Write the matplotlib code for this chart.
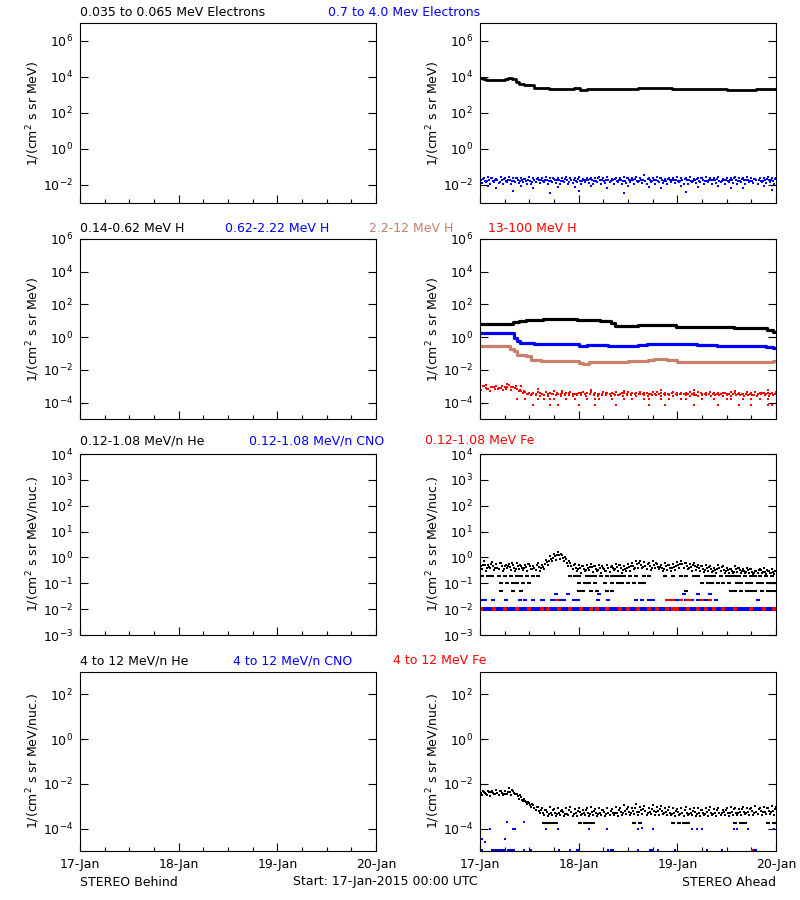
import numpy as np
import matplotlib
matplotlib.use("Agg")
import matplotlib.pyplot as plt
from matplotlib.ticker import NullLocator

plt.rcParams['font.family'] = ['DejaVu Sans']
plt.rcParams['font.size'] = 9

BLUE = '#0000ff'
RED = '#ff0000'
BROWN = '#c8806a'

# ---- row 1: electrons (STEREO Ahead) ----
e_lo_t = [0, 0.03, 0.06, 0.25, 0.28, 0.32, 0.36, 0.40, 0.45, 0.52, 0.55, 0.60, 0.70, 0.90, 0.95,
          1.01, 1.08, 1.20, 1.50, 1.60, 1.75, 1.85, 1.95, 2.10, 2.50, 2.80, 2.97, 3.0]
e_lo_v = [9000, 7500, 7200, 8000, 8700, 7600, 5600, 4300, 3500, 3400, 2500, 2300, 2100, 2200, 2300,
          1850, 2150, 2200, 2100, 2300, 2600, 2500, 2150, 2050, 2000, 2050, 2200, 2200]

e_hi_1 = [0.026, 0.023, 0.028, 0.025, 0.022, 0.027, 0.024, 0.029, 0.023, 0.026, 0.025, 0.022, 0.027, 0.024,
          0.026, 0.023, 0.028, 0.025, 0.022, 0.026, 0.024, 0.027, 0.023, 0.025, 0.028, 0.022, 0.026, 0.024,
          0.023, 0.027, 0.025, 0.029, 0.022, 0.026, 0.024, 0.027, 0.023, 0.025, 0.028, 0.024, 0.034, 0.026,
          0.023, 0.027, 0.025, 0.022, 0.026, 0.024, 0.028, 0.023, 0.025, 0.027, 0.022, 0.026, 0.024, 0.029,
          0.023, 0.025, 0.027, 0.022, 0.026, 0.024, 0.028, 0.023, 0.025, 0.027, 0.024, 0.022, 0.026, 0.025,
          0.028, 0.023, 0.025]
e_hi_2 = [0.018, 0.017, 0.020, 0.016, 0.019, 0.018, 0.017, 0.020, 0.016, 0.018, 0.019, 0.017, 0.016, 0.020,
          0.018, 0.017, 0.019, 0.016, 0.018, 0.020, 0.017, 0.019, 0.018, 0.016, 0.017, 0.020, 0.018, 0.019,
          0.016, 0.018, 0.017, 0.020, 0.019, 0.016, 0.018, 0.017, 0.019, 0.020, 0.016, 0.018, 0.017, 0.019,
          0.018, 0.016, 0.020, 0.017, 0.018, 0.019, 0.016, 0.018, 0.020, 0.017, 0.019, 0.016, 0.018, 0.017,
          0.020, 0.018, 0.016, 0.019, 0.017, 0.018, 0.020, 0.016, 0.019, 0.018, 0.017, 0.020, 0.016, 0.018,
          0.019, 0.017, 0.018]
e_hi_3 = [0.013, 0.014, 0.012, 0.015, 0.013, 0.011, 0.014, 0.012, 0.015, 0.013, 0.014, 0.012, 0.011, 0.014,
          0.013, 0.015, 0.012, 0.014, 0.013, 0.011, 0.015, 0.012, 0.013, 0.014, 0.012, 0.015, 0.013, 0.011,
          0.014, 0.012, 0.013, 0.015, 0.012, 0.014, 0.011, 0.013, 0.015, 0.012, 0.014, 0.013, 0.012, 0.014,
          0.011, 0.015, 0.013, 0.012, 0.014, 0.013, 0.015, 0.011, 0.012, 0.014, 0.013, 0.015, 0.012, 0.014,
          0.011, 0.013, 0.015, 0.012, 0.014, 0.013, 0.012, 0.015, 0.011, 0.014, 0.013, 0.012, 0.015, 0.013,
          0.014, 0.012, 0.013]
e_hi_4 = [0.021, 0.016, 0.023, 0.019, 0.015, 0.022, 0.020, 0.017, 0.024, 0.016, 0.021, 0.019, 0.015, 0.022,
          0.018, 0.020, 0.016, 0.023, 0.019, 0.017, 0.021, 0.015, 0.020, 0.022, 0.017, 0.019, 0.021, 0.016,
          0.023, 0.018, 0.020, 0.016, 0.022, 0.019, 0.017, 0.024, 0.018, 0.021, 0.016, 0.020, 0.022, 0.017,
          0.019, 0.023, 0.016, 0.021, 0.018, 0.020, 0.017, 0.022, 0.019, 0.016, 0.021, 0.023, 0.017, 0.020,
          0.018, 0.022, 0.016, 0.020, 0.019, 0.023, 0.017, 0.021, 0.018, 0.016, 0.022, 0.020, 0.017, 0.021,
          0.019, 0.022, 0.020]
e_hi_out_h = [2, 4, 8, 10, 13, 17, 19, 23, 24, 27, 31, 35, 36, 41, 44, 49, 50, 53, 58, 61, 64, 69, 71]
e_hi_out_v = [0.0085, 0.007, 0.0045, 0.009, 0.0065, 0.0035, 0.008, 0.0075, 0.0045, 0.009, 0.007, 0.0035,
              0.0085, 0.008, 0.0065, 0.009, 0.004, 0.0075, 0.0085, 0.007, 0.0065, 0.009, 0.005]

# ---- row 2: protons ----
h1_t = [0, 0.28, 0.33, 0.40, 0.47, 0.64, 0.98, 1.22, 1.33, 1.37, 1.60, 1.99, 2.20, 2.57, 2.80, 2.91, 2.97, 3.0]
h1_v = [6.3, 6.8, 8.5, 10, 11, 12.5, 11.5, 9.5, 7, 5, 5.6, 4.4, 4.0, 3.6, 3.4, 2.6, 2.1, 2.1]
h2_t = [0, 0.31, 0.34, 0.37, 0.41, 0.55, 1.0, 1.08, 1.3, 1.6, 1.69, 1.9, 2.2, 2.4, 2.74, 2.9, 2.97, 3.0]
h2_v = [1.9, 1.8, 0.9, 0.55, 0.43, 0.39, 0.30, 0.32, 0.31, 0.33, 0.39, 0.36, 0.35, 0.30, 0.27, 0.24, 0.22, 0.22]
h3_t = [0, 0.25, 0.30, 0.34, 0.38, 0.47, 0.52, 0.62, 1.0, 1.04, 1.1, 1.5, 1.7, 1.76, 1.9, 2.0, 2.3, 2.9, 2.97, 3.0]
h3_v = [0.27, 0.3, 0.2, 0.14, 0.085, 0.067, 0.042, 0.033, 0.026, 0.024, 0.032, 0.035, 0.042, 0.048, 0.038,
        0.03, 0.029, 0.032, 0.036, 0.036]

h4_a = [8e-4, 1.0e-3, 7e-4, 9e-4, 1.1e-3, 8e-4, 9.5e-4, 1.2e-3, 9e-4, 7e-4, 5.5e-4, 4.5e-4, 4e-4,
        3.8e-4, 4.5e-4, 3.5e-4, 4.2e-4, 3.9e-4, 4.8e-4, 3.6e-4, 4.1e-4, 3.8e-4, 4.4e-4, 3.5e-4, 4.0e-4,
        4.6e-4, 3.7e-4, 4.2e-4, 3.9e-4, 3.6e-4, 4.5e-4, 4.0e-4, 3.8e-4, 4.3e-4, 3.6e-4, 4.1e-4, 4.7e-4,
        3.9e-4, 3.7e-4, 4.2e-4, 4.0e-4, 3.5e-4, 4.4e-4, 4.6e-4, 3.8e-4, 4.1e-4, 3.6e-4, 4.3e-4, 3.9e-4,
        4.0e-4, 3.7e-4, 4.5e-4, 3.8e-4, 4.2e-4, 3.6e-4, 4.0e-4, 4.4e-4, 3.7e-4, 3.9e-4, 4.1e-4, 3.5e-4,
        4.3e-4, 3.8e-4, 4.0e-4, 3.6e-4, 4.2e-4, 3.9e-4, 4.5e-4, 3.7e-4, 4.1e-4, 3.8e-4, 4.0e-4, 4.3e-4]
h4_b = [6e-4, 7.5e-4, 5.5e-4, 8.5e-4, 6.5e-4, 1.0e-3, 7e-4, 6e-4, 8e-4, 5e-4, 4e-4, 3.2e-4,
        2.8e-4, 3.1e-4, 2.6e-4, 3.0e-4, 2.7e-4, 3.2e-4, 2.9e-4, 2.5e-4, 3.0e-4, 2.8e-4, 2.6e-4, 3.1e-4,
        2.9e-4, 2.7e-4, 3.2e-4, 2.8e-4, 2.5e-4, 3.0e-4, 2.9e-4, 2.6e-4, 3.1e-4, 2.8e-4, 2.7e-4, 3.0e-4,
        2.9e-4, 2.6e-4, 3.2e-4, 2.8e-4, 2.5e-4, 2.9e-4, 3.1e-4, 2.7e-4, 2.8e-4, 3.0e-4, 2.6e-4, 2.9e-4,
        3.2e-4, 2.8e-4, 2.7e-4, 3.0e-4, 2.5e-4, 2.9e-4, 3.1e-4, 2.6e-4, 2.8e-4, 3.0e-4, 2.7e-4, 2.9e-4,
        2.6e-4, 3.1e-4, 2.8e-4, 2.5e-4, 3.0e-4, 2.9e-4, 2.7e-4, 3.2e-4, 2.8e-4, 2.6e-4, 3.0e-4, 2.8e-4]
h4_c = [1.0e-3, 6.5e-4, 9e-4, 7e-4, 8e-4, 6e-4, 9e-4, 8.5e-4, 1.1e-3, 6e-4, 4.8e-4, 3.6e-4, 3.3e-4,
        3.4e-4, 3.9e-4, 3.1e-4, 3.6e-4, 3.3e-4, 4.0e-4, 3.2e-4, 3.5e-4, 3.7e-4, 3.2e-4, 3.4e-4, 3.8e-4,
        3.3e-4, 3.5e-4, 3.2e-4, 3.6e-4, 3.4e-4, 3.9e-4, 3.3e-4, 3.5e-4, 3.1e-4, 3.7e-4, 3.4e-4, 3.2e-4,
        3.6e-4, 3.5e-4, 3.3e-4, 3.8e-4, 3.4e-4, 3.2e-4, 3.6e-4, 3.3e-4, 3.5e-4, 3.9e-4, 3.2e-4, 3.4e-4,
        3.6e-4, 3.3e-4, 3.5e-4, 3.1e-4, 3.7e-4, 3.4e-4, 3.2e-4, 3.6e-4, 3.5e-4, 3.3e-4, 3.8e-4, 3.4e-4,
        3.2e-4, 3.5e-4, 3.3e-4, 3.6e-4, 3.4e-4, 3.1e-4, 3.5e-4, 3.7e-4, 3.3e-4, 3.4e-4, 3.2e-4, 3.5e-4]
h4_up_h = [1.5, 3, 6.5, 10, 14, 20, 27, 35, 44, 52, 62, 70]
h4_up_v = [1.2e-3, 9e-4, 1.3e-3, 1.1e-3, 6.5e-4, 5.5e-4, 5.8e-4, 5.5e-4, 6e-4, 5.6e-4, 5.5e-4, 6e-4]
h4_r17_h = [9, 11, 14, 15.5, 17, 18, 21, 23, 26, 28, 29, 32, 35, 37, 40, 41, 44, 46, 49, 50, 54, 57,
            60, 61, 64, 66, 68, 70]
h4_r07_h = [13, 17, 19, 24, 28, 33, 41, 45, 52, 58, 63, 66, 70, 71]

# ---- row 3: 0.12-1.08 MeV/n heavy ions ----
he_a = [0.6, 0.7, 0.5, 0.65, 0.55, 0.6, 0.45, 0.55, 0.5, 0.6, 0.45, 0.5, 0.55, 0.45, 0.6, 0.5,
        0.8, 1.1, 1.4, 1.6, 1.2, 0.9,
        0.6, 0.55, 0.5, 0.45, 0.5, 0.55, 0.45, 0.5, 0.4, 0.5, 0.45, 0.55, 0.5, 0.45,
        0.55, 0.6, 0.7, 0.75, 0.65, 0.6, 0.7, 0.55, 0.5, 0.6, 0.5, 0.55, 0.65, 0.7, 0.6, 0.55, 0.6, 0.5,
        0.45, 0.5, 0.45, 0.4, 0.5, 0.45, 0.4, 0.35, 0.45, 0.4, 0.35, 0.4, 0.35, 0.3, 0.35, 0.4, 0.3,
        0.35, 0.3]
he_b = [0.35, 0.3, 0.4, 0.32, 0.35, 0.3, 0.38, 0.32, 0.3, 0.35, 0.33, 0.3, 0.36, 0.32, 0.3, 0.35,
        0.5, 0.7, 0.8, 0.9, 0.7, 0.45,
        0.35, 0.3, 0.25, 0.3, 0.32, 0.28, 0.3, 0.25, 0.3, 0.28, 0.32, 0.3, 0.26, 0.3,
        0.3, 0.35, 0.4, 0.38, 0.35, 0.32, 0.4, 0.35, 0.3, 0.34, 0.3, 0.32, 0.38, 0.4, 0.35, 0.3, 0.32, 0.3,
        0.28, 0.3, 0.28, 0.25, 0.3, 0.26, 0.25, 0.24, 0.28, 0.25, 0.24, 0.26, 0.22, 0.24, 0.25, 0.22,
        0.24, 0.22, 0.24]
he_c = [0.45, 0.5, 0.42, 0.48, 0.4, 0.45, 0.5, 0.42, 0.4, 0.46, 0.38, 0.42, 0.45, 0.4, 0.44, 0.42,
        0.65, 0.9, 1.1, 1.2, 0.95, 0.6,
        0.45, 0.4, 0.38, 0.35, 0.4, 0.42, 0.36, 0.4, 0.35, 0.38, 0.4, 0.42, 0.38, 0.36,
        0.42, 0.45, 0.55, 0.5, 0.48, 0.45, 0.52, 0.44, 0.4, 0.45, 0.4, 0.43, 0.5, 0.55, 0.46, 0.42, 0.45, 0.4,
        0.36, 0.4, 0.35, 0.32, 0.38, 0.34, 0.32, 0.3, 0.35, 0.32, 0.3, 0.33, 0.28, 0.3, 0.32, 0.28,
        0.3, 0.27, 0.3]
he_d = [0.5, 0.38, 0.55, 0.4, 0.62, 0.36, 0.48, 0.6, 0.37, 0.52, 0.4, 0.58, 0.35, 0.5, 0.4, 0.55,
        0.7, 0.95, 1.25, 1.3, 1.05, 0.7,
        0.5, 0.36, 0.45, 0.32, 0.42, 0.48, 0.33, 0.45, 0.3, 0.42, 0.36, 0.5, 0.34, 0.4,
        0.48, 0.38, 0.62, 0.44, 0.55, 0.4, 0.6, 0.42, 0.36, 0.52, 0.38, 0.47, 0.56, 0.62, 0.4, 0.5, 0.42, 0.45,
        0.32, 0.44, 0.3, 0.36, 0.42, 0.3, 0.35, 0.27, 0.38, 0.3, 0.28, 0.36, 0.25, 0.32, 0.28, 0.34,
        0.25, 0.3, 0.27]
he_q2_h = [0.5, 2, 3, 4.5, 6, 7.5, 9, 10, 11.5, 13, 14, 22, 23, 24, 26, 27, 28, 29.5, 31, 32, 33, 34,
           35, 36.5, 38, 40, 41, 45, 47, 49, 50, 52, 53, 55, 56, 57, 58.5, 60, 61, 62, 63, 64.5, 66, 67,
           68, 69.5, 71]
he_q1_h = [5, 6.5, 8, 9, 10.5, 12, 24, 25.5, 26.5, 28, 30.5, 32, 33.5, 34.5, 36, 37.5, 39, 40,
           54, 55.5, 56.5, 58, 59, 60.5, 62.5, 63.5, 65, 66, 67.5, 68.5, 70, 71, 72]
he_q05_h = [5, 8, 10, 24, 25, 27, 28.5, 31, 32, 50, 61, 62, 63.5, 65, 66, 67, 68.5, 70, 71, 72]

cno_01_h = np.arange(0, 72.25, 0.5)
fe_01_h = [0.3, 3.5, 6, 9, 12, 15, 16.5, 19.3, 22, 24.5, 27, 28.5, 31, 34, 36, 38.5, 41, 43, 45.5, 47,
           48, 50.5, 53, 55, 57, 59, 62, 66, 69, 71.5]
cno_02_h = [0.4, 1.2, 3.2, 6.3, 9.7, 11, 13, 15, 15.4, 17.5, 18.5, 19.5, 20.5, 22.8, 23.8,
            28.8, 31.2, 38, 39.5, 41, 42, 47.5, 48.5, 50, 51.5, 53, 55, 57.5, 67.5]
fe_02_h = [18.8, 45.5, 46.5, 47, 49, 50.5, 51, 54, 56]
cno_04_h = [18.5, 21.5, 29, 49.5, 53, 56]

# ---- row 4: 4-12 MeV/n heavy ions ----
he4_a = [5.5e-3, 4.5e-3, 5e-3, 4.8e-3, 5.2e-3, 4.6e-3, 5e-3, 6.5e-3, 5e-3,
         3.5e-3, 2.5e-3, 1.8e-3, 1.4e-3, 1.1e-3, 9e-4,
         8e-4, 7e-4, 9e-4, 7.5e-4, 8.5e-4, 7e-4, 8e-4, 9.5e-4, 7.5e-4, 8e-4, 7e-4, 8.5e-4, 9e-4, 7.5e-4,
         8e-4, 7e-4, 8.5e-4, 7.5e-4, 9e-4, 8e-4, 1.1e-3, 9e-4, 8.5e-4, 1.2e-3, 9.5e-4, 1.0e-3, 8.5e-4,
         1.1e-3, 9e-4, 1.0e-3, 8e-4, 9e-4, 8.5e-4, 7.5e-4, 8e-4, 9e-4, 7.5e-4, 8e-4, 8.5e-4, 7e-4, 8e-4,
         9e-4, 7.5e-4, 8e-4, 7e-4, 8.5e-4, 9e-4, 8e-4, 7.5e-4, 9.5e-4, 8e-4, 8.5e-4, 1.0e-3, 8e-4, 9e-4,
         8.5e-4, 1.0e-3, 9e-4]
he4_b = [4e-3, 3.8e-3, 4.2e-3, 3.9e-3, 4.1e-3, 4e-3, 3.7e-3, 4.3e-3, 4e-3,
         2.8e-3, 2e-3, 1.5e-3, 1.1e-3, 8e-4, 6e-4,
         5e-4, 5.5e-4, 4.8e-4, 5.2e-4, 5e-4, 5.6e-4, 4.7e-4, 5.3e-4, 5e-4, 5.5e-4, 4.8e-4, 5.2e-4, 5.4e-4,
         4.9e-4, 5.1e-4, 5.5e-4, 4.8e-4, 5.2e-4, 5e-4, 5.6e-4, 6e-4, 5.5e-4, 6.2e-4, 5.8e-4, 6.5e-4, 6e-4,
         5.6e-4, 6.3e-4, 5.9e-4, 6e-4, 5.5e-4, 5.2e-4, 5e-4, 5.4e-4, 4.8e-4, 5.2e-4, 5e-4, 5.5e-4, 4.9e-4,
         5.1e-4, 5.3e-4, 4.8e-4, 5.2e-4, 5e-4, 5.5e-4, 5.2e-4, 5.6e-4, 5e-4, 5.4e-4, 5.8e-4, 5.5e-4, 6e-4,
         5.6e-4, 6.2e-4, 5.8e-4, 6e-4, 6.4e-4, 6e-4]
he4_c = [3.2e-3, 3.5e-3, 3e-3, 3.4e-3, 3.3e-3, 3.1e-3, 3.5e-3, 3.2e-3, 3.4e-3,
         2.2e-3, 1.7e-3, 1.2e-3, 9e-4, 6.5e-4, 5e-4,
         4e-4, 3.7e-4, 4.2e-4, 3.8e-4, 4e-4, 3.6e-4, 4.1e-4, 3.8e-4, 3.7e-4, 4.2e-4, 3.9e-4, 3.6e-4, 4e-4,
         3.8e-4, 4.1e-4, 3.7e-4, 3.9e-4, 4.2e-4, 3.8e-4, 4e-4, 4.3e-4, 4.1e-4, 4.5e-4, 4.2e-4, 4.4e-4, 4.1e-4,
         4.3e-4, 4e-4, 4.2e-4, 4.4e-4, 3.9e-4, 4.1e-4, 3.8e-4, 4e-4, 3.7e-4, 3.9e-4, 4.1e-4, 3.8e-4, 3.6e-4,
         4e-4, 3.8e-4, 4.1e-4, 3.7e-4, 3.9e-4, 4e-4, 3.8e-4, 4.2e-4, 3.9e-4, 4.1e-4, 4.3e-4, 4e-4, 4.2e-4,
         4.4e-4, 4.1e-4, 4.3e-4, 4.5e-4, 4.2e-4, 4.4e-4]
he4_d = [4.6e-3, 3.3e-3, 4.4e-3, 3.6e-3, 4.8e-3, 3.5e-3, 4.2e-3, 5.2e-3, 3.6e-3,
         3.1e-3, 2.2e-3, 1.6e-3, 1.2e-3, 9.5e-4, 7e-4,
         6.5e-4, 4.5e-4, 7e-4, 4.4e-4, 6.2e-4, 4.6e-4, 6.8e-4, 4.3e-4, 6e-4, 4.7e-4, 6.6e-4, 4.4e-4, 6.4e-4,
         4.5e-4, 7e-4, 4.6e-4, 6.2e-4, 4.8e-4, 6.8e-4, 5e-4, 7.5e-4, 5.2e-4, 8e-4, 5.4e-4, 7.8e-4, 5e-4,
         7.2e-4, 5.3e-4, 7.6e-4, 4.8e-4, 6.8e-4, 4.6e-4, 6.4e-4, 4.5e-4, 6.6e-4, 4.4e-4, 6.2e-4, 4.7e-4,
         6.8e-4, 4.5e-4, 6.5e-4, 4.6e-4, 7e-4, 4.8e-4, 6.6e-4, 5e-4, 7.2e-4, 4.9e-4, 7.4e-4, 5.2e-4, 7.8e-4,
         5.1e-4, 7.5e-4, 5.3e-4, 8e-4, 5.5e-4, 7.6e-4, 5.4e-4]
he4_q_h = [15.5, 16.5, 17.5, 18.5, 24.3, 25.5, 26.5, 27.5, 37.5, 39, 47, 48.5, 49.5, 50.5, 62, 63.5, 64.5,
           70, 71.5]
cno4_h = [0.4, 1.2, 2.4, 6, 6.5, 8, 8.4, 10.6, 16, 19, 26.4, 31, 38.4, 39.4, 42, 51.6, 52.8, 54, 61.9, 62.4,
          65.3, 71.5]
cno4_v = [3.5e-5, 2.4e-5, 1e-4, 3.5e-5, 2e-4, 1e-4, 1e-4, 2e-4, 1e-4, 1e-4, 1e-4, 1e-4, 1e-4, 1.1e-4, 1e-4,
          1e-4, 1e-4, 1e-4, 1e-4, 1e-4, 1e-4, 1e-4]
cno4_low_h = [0.5, 2.9, 3.1, 3.4, 3.6, 3.8, 4.1, 4.3, 4.6, 4.8, 5.3, 5.8, 6.2, 6.7, 7.2, 7.7, 8.2, 10.6, 10.8,
              12.5, 19.2, 22, 23.5, 24, 31.2, 31.9, 32.4, 38.4, 41.3, 41.8, 42.2, 43.2, 47.5, 55.2, 58.8,
              66.7, 67.2]
fe4_low_h = [66.2]

# ---- labels ----
day_labels = ['17-Jan', '18-Jan', '19-Jan', '20-Jan']
row_titles = [
    [('0.035 to 0.065 MeV Electrons', 'black', 80), ('0.7 to 4.0 Mev Electrons', BLUE, 328)],
    [('0.14-0.62 MeV H', 'black', 80), ('0.62-2.22 MeV H', BLUE, 225),
     ('2.2-12 MeV H', BROWN, 369), ('13-100 MeV H', RED, 488)],
    [('0.12-1.08 MeV/n He', 'black', 80), ('0.12-1.08 MeV/n CNO', BLUE, 249),
     ('0.12-1.08 MeV Fe', RED, 425)],
    [('4 to 12 MeV/n He', 'black', 80), ('4 to 12 MeV/n CNO', BLUE, 233), ('4 to 12 MeV Fe', RED, 393)],
]
title_y = [13, 228, 441, 661]
ylabels = ['1/(cm$^2$ s sr MeV)', '1/(cm$^2$ s sr MeV)',
           '1/(cm$^2$ s sr MeV/nuc.)', '1/(cm$^2$ s sr MeV/nuc.)']
ylims = [(1e-3, 1e7), (1e-5, 1e6), (1e-3, 1e4), (1e-5, 1e3)]
yticks = [[1e-2, 1e0, 1e2, 1e4, 1e6], [1e-4, 1e-2, 1e0, 1e2, 1e4, 1e6],
          [1e-3, 1e-2, 1e-1, 1e0, 1e1, 1e2, 1e3, 1e4], [1e-4, 1e-2, 1e0, 1e2]]
row_px = [(23, 203), (239, 419), (454, 635), (672, 851)]

W, H = 800, 900
fig = plt.figure(figsize=(8, 9), dpi=100)


def dots(ax, hours, vals, color, ms=2.1, marker='s'):
    ax.plot(np.asarray(hours, dtype=float) / 24.0, vals, marker, ms=ms, mew=0, color=color, linestyle='none')


def dashes(ax, hours, level, color):
    ax.plot(np.asarray(hours, dtype=float) / 24.0, [level] * len(hours), '_', ms=3.2, mew=1.5,
            color=color, linestyle='none')


def strand(ax, vals, color, offset=0.0, ms=2.1):
    hrs = np.linspace(0, 72, len(vals)) + offset
    keep = hrs <= 72
    dots(ax, hrs[keep], np.asarray(vals)[keep], color, ms)


axes = []
for r in range(4):
    top, bot = row_px[r]
    for c, x0 in enumerate([80, 480]):
        ax = fig.add_axes([x0 / W, 1 - bot / H, 296 / W, (bot - top) / H])
        ax.set_yscale('log')
        ax.set_xlim(0, 3)
        ax.set_ylim(*ylims[r])
        ax.set_yticks(yticks[r])
        ax.yaxis.set_minor_locator(NullLocator())
        ax.set_xticks([0, 1, 2, 3])
        ax.set_xticks(np.arange(0, 3.01, 0.25), minor=True)
        ax.tick_params(which='both', direction='in', top=False, right=True, labelsize=9, width=0.8)
        ax.tick_params(which='major', length=6, pad=5)
        ax.tick_params(which='minor', length=3)
        if r == 3:
            ax.set_xticklabels(day_labels)
        else:
            ax.set_xticklabels([])
        ax.set_ylabel(ylabels[r], fontsize=9)
        ax.yaxis.set_label_coords(-0.13, 0.5)
        for s in ax.spines.values():
            s.set_linewidth(0.8)
        axes.append(ax)

# right column data
ax = axes[1]
ax.plot(e_lo_t, e_lo_v, color='black', lw=2.0, drawstyle='steps-post')
strand(ax, e_hi_1, BLUE, 0.0)
strand(ax, e_hi_2, BLUE, 0.25)
strand(ax, e_hi_3, BLUE, 0.5)
strand(ax, e_hi_4, BLUE, 0.75)
dots(ax, e_hi_out_h, e_hi_out_v, BLUE)

ax = axes[3]
ax.plot(h1_t, h1_v, color='black', lw=2.3, drawstyle='steps-post')
ax.plot(h2_t, h2_v, color=BLUE, lw=2.3, drawstyle='steps-post')
ax.plot(h3_t, h3_v, color=BROWN, lw=2.3, drawstyle='steps-post')
strand(ax, h4_a, RED, 0.0)
strand(ax, h4_b, RED, 0.33)
strand(ax, h4_c, RED, 0.66)
dots(ax, h4_up_h, h4_up_v, RED)
dots(ax, h4_r17_h, [1.7e-4] * len(h4_r17_h), RED)
dots(ax, h4_r07_h, [6.7e-5] * len(h4_r07_h), RED)

ax = axes[5]
strand(ax, he_a, 'black', 0.0)
strand(ax, he_b, 'black', 0.5)
strand(ax, he_c, 'black', 0.25)
strand(ax, he_d, 'black', 0.75)
dashes(ax, he_q2_h, 0.2, 'black')
dashes(ax, he_q1_h, 0.1, 'black')
dashes(ax, he_q05_h, 0.05, 'black')
fe_arr = np.asarray(fe_01_h)
cno_keep = [h for h in cno_01_h if np.min(np.abs(fe_arr - h)) > 0.3]
dots(ax, cno_keep, [0.0105] * len(cno_keep), BLUE, 2.4)
dots(ax, fe_01_h, [0.0105] * len(fe_01_h), RED, 2.4)
dashes(ax, cno_02_h, 0.022, BLUE)
dashes(ax, fe_02_h, 0.022, RED)
dashes(ax, cno_04_h, 0.037, BLUE)

ax = axes[7]
strand(ax, he4_a, 'black', 0.0)
strand(ax, he4_b, 'black', 0.25)
strand(ax, he4_c, 'black', 0.5)
strand(ax, he4_d, 'black', 0.75)
dashes(ax, he4_q_h, 1.8e-4, 'black')
dots(ax, cno4_h, cno4_v, BLUE)
dots(ax, cno4_low_h, [1.15e-5] * len(cno4_low_h), BLUE)
dots(ax, fe4_low_h, [1.15e-5] * len(fe4_low_h), RED)

# titles above each row
for r in range(4):
    for txt, col, x in row_titles[r]:
        fig.text(x / W, 1 - title_y[r] / H, txt, color=col, fontsize=9, ha='left', va='center')

fig.text(80 / W, 1 - 882 / H, 'STEREO Behind', fontsize=9, ha='left', va='center')
fig.text(293 / W, 1 - 882 / H, 'Start: 17-Jan-2015 00:00 UTC', fontsize=9, ha='left', va='center')
fig.text(776 / W, 1 - 882 / H, 'STEREO Ahead', fontsize=9, ha='right', va='center')

fig.savefig('out.png', dpi=100, facecolor='white')
